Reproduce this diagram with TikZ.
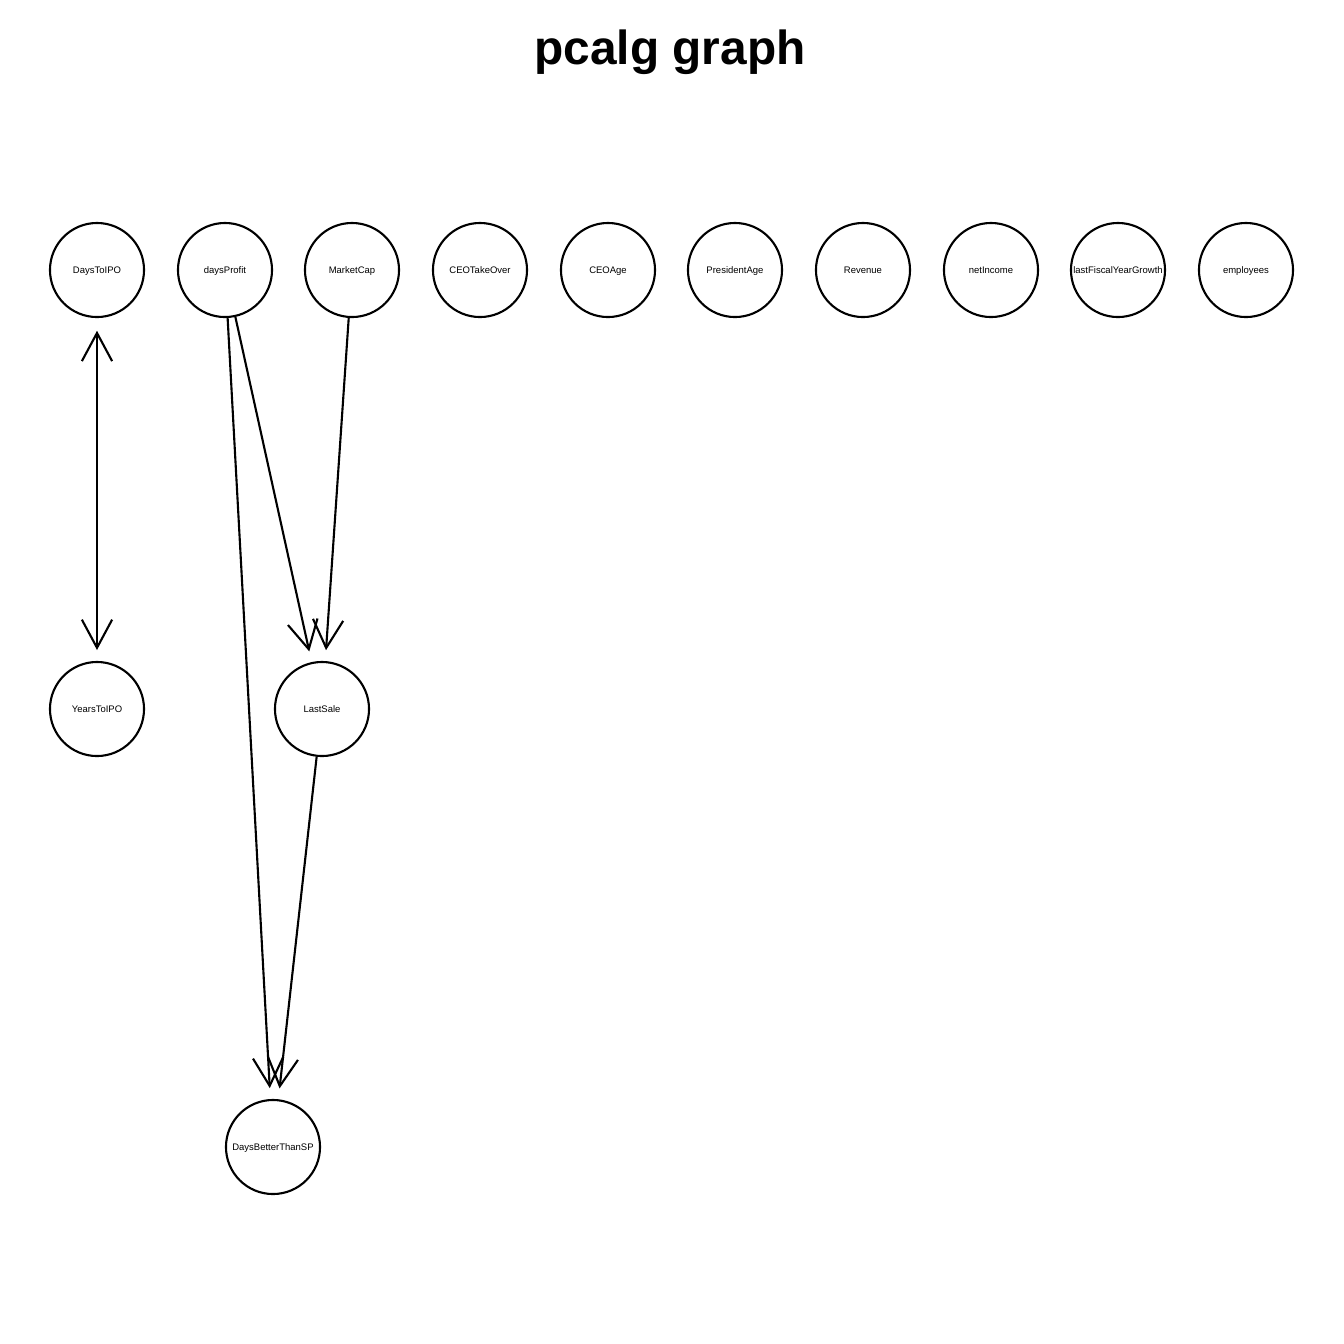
\documentclass[tikz,border=0pt]{standalone}
\usepackage{fontspec}
\setmainfont{Liberation Sans}
\usetikzlibrary{arrows.meta, positioning}

\begin{document}
\begin{tikzpicture}[x=0.01cm, y=-0.01cm,
    var/.style={circle, draw, line width=0.6pt, minimum size=0.94cm, inner sep=0pt,
      text height=1.95pt, text depth=0pt, font=\fontsize{2.7}{3}\selectfont},
    >={Straight Barb[length=8pt, width=8.6pt]}]
            \useasboundingbox (0,0) rectangle (1344,1344);
            \draw (670,52) node[font=\fontsize{13.6}{16}\selectfont\bfseries] (title) {pcalg graph};
            \draw (97,270) node[var] (DaysToIPO) {DaysToIPO};
            \draw (225,270) node[var] (daysProfit) {daysProfit};
            \draw (352,270) node[var] (MarketCap) {MarketCap};
            \draw (480,270) node[var] (CEOTakeOver) {CEOTakeOver};
            \draw (608,270) node[var] (CEOAge) {CEOAge};
            \draw (735,270) node[var] (PresidentAge) {PresidentAge};
            \draw (863,270) node[var] (Revenue) {Revenue};
            \draw (991,270) node[var] (netIncome) {netIncome};
            \draw (1118,270) node[var] (lastFiscalYearGrowth) {lastFiscalYearGrowth};
            \draw (1246,270) node[var] (employees) {employees};
            \draw (97,709) node[var] (YearsToIPO) {YearsToIPO};
            \draw (322,709) node[var] (LastSale) {LastSale};
            \draw (273,1147) node[var] (DaysBetterThanSP) {DaysBetterThanSP};
            \path[->, line width=0.6pt, shorten >=3.1pt]
            (daysProfit) edge node {} (DaysBetterThanSP)
            (daysProfit) edge node {} (LastSale)
            (MarketCap) edge node {} (LastSale)
            (LastSale) edge node {} (DaysBetterThanSP);
            \path[<->, line width=0.6pt, shorten >=3.1pt, shorten <=3.6pt]
            (DaysToIPO) edge node {} (YearsToIPO);
        \end{tikzpicture}
\end{document}
